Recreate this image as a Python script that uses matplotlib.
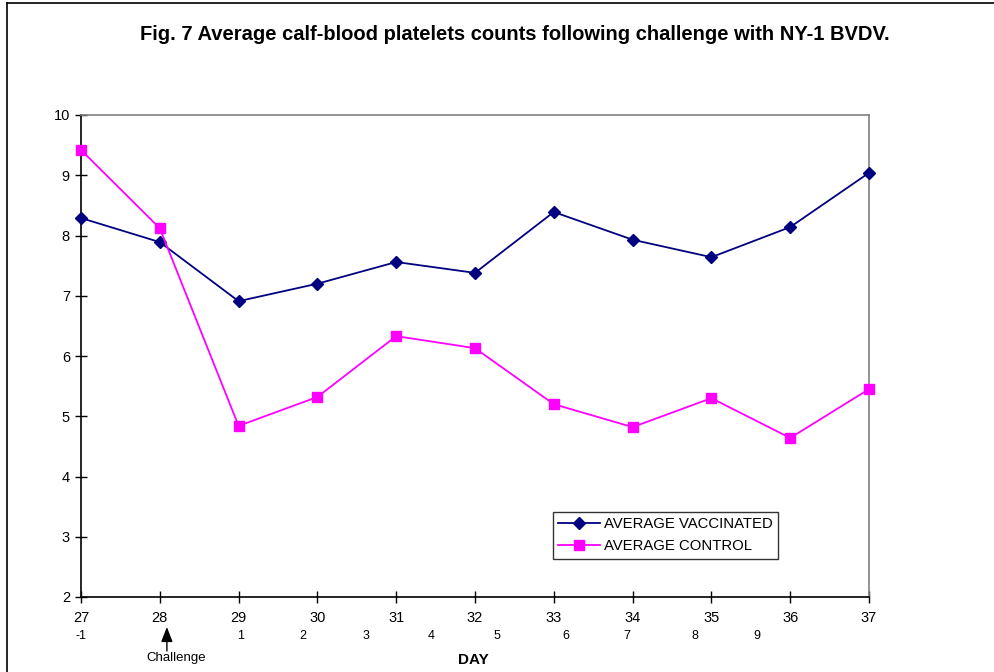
import matplotlib
matplotlib.use("Agg")
import matplotlib.pyplot as plt
from matplotlib.lines import Line2D

plt.rcParams['font.family'] = ['Liberation Sans', 'DejaVu Sans']

days = [27, 28, 29, 30, 31, 32, 33, 34, 35, 36, 37]
vaccinated = [8.29, 7.89, 6.91, 7.20, 7.56, 7.38, 8.39, 7.93, 7.64, 8.14, 9.04]
control = [9.42, 8.12, 4.84, 5.32, 6.33, 6.13, 5.20, 4.82, 5.30, 4.64, 5.45]
post_labels = ['-1', '1', '2', '3', '4', '5', '6', '7', '8', '9']
post_pos = [27.0, 29.02, 29.82, 30.62, 31.45, 32.28, 33.15, 33.93, 34.79, 35.58]

W, H = 994, 672
fig = plt.figure(figsize=(W / 100, H / 100), dpi=100)
ax = fig.add_axes([81 / W, 1 - 597 / H, (869 - 81) / W, (597 - 115) / H])

ax.plot(days, vaccinated, color='#000080', marker='D', markersize=6, lw=1.3,
        label='AVERAGE VACCINATED', clip_on=False, zorder=3)
ax.plot(days, control, color='#FF00FF', marker='s', markersize=7, lw=1.3,
        label='AVERAGE CONTROL', clip_on=False, zorder=3)

ax.set_xlim(27, 37)
ax.set_ylim(2, 10)
ax.set_xticks(days)
ax.set_yticks(range(2, 11))
ax.tick_params(direction='inout', length=8, width=1, labelsize=10.5, colors='black')
ax.tick_params(axis='x', pad=6)
ax.tick_params(axis='y', pad=4)
for s in ['left', 'bottom']:
    ax.spines[s].set_color('black')
    ax.spines[s].set_linewidth(1.2)
for s in ['top', 'right']:
    ax.spines[s].set_color('#808080')
    ax.spines[s].set_linewidth(1.2)

for lab, p in zip(post_labels, post_pos):
    ax.annotate(lab, xy=(p, H - 636), xycoords=('data', 'figure pixels'),
                ha='center', va='center', fontsize=9)

ax.annotate('', xy=(28.09, H - 627), xycoords=('data', 'figure pixels'),
            xytext=(28.09, H - 651), textcoords=('data', 'figure pixels'),
            arrowprops=dict(arrowstyle='-|>,head_length=0.9,head_width=0.35',
                            color='black', lw=1, mutation_scale=10, shrinkA=0, shrinkB=0))
fig.text(176 / W, 1 - 658 / H, 'Challenge', ha='center', va='center', fontsize=9.5)
fig.text(473 / W, 1 - 660 / H, 'DAY', ha='center', va='center', fontsize=11, fontweight='bold')

fig.text(515 / W, 1 - 34 / H,
         'Fig. 7 Average calf-blood platelets counts following challenge with NY-1 BVDV.',
         ha='center', va='center', fontsize=14.5, fontweight='bold')

leg = ax.legend(loc='upper left', bbox_to_anchor=((553 - 81) / (869 - 81), 1 - (512 - 115) / (597 - 115)),
                frameon=True, fancybox=False, edgecolor='black', fontsize=10.7,
                borderpad=0.35, labelspacing=0.55, handlelength=2.8, handletextpad=0.3,
                borderaxespad=0)
leg.get_frame().set_linewidth(1.0)

fig.add_artist(Line2D([7 / W, 7 / W], [0, 1 - 3 / H], color='black', lw=1.2))
fig.add_artist(Line2D([7 / W, 1], [1 - 3 / H, 1 - 3 / H], color='black', lw=1.2))

fig.savefig('out.png', dpi=100)
